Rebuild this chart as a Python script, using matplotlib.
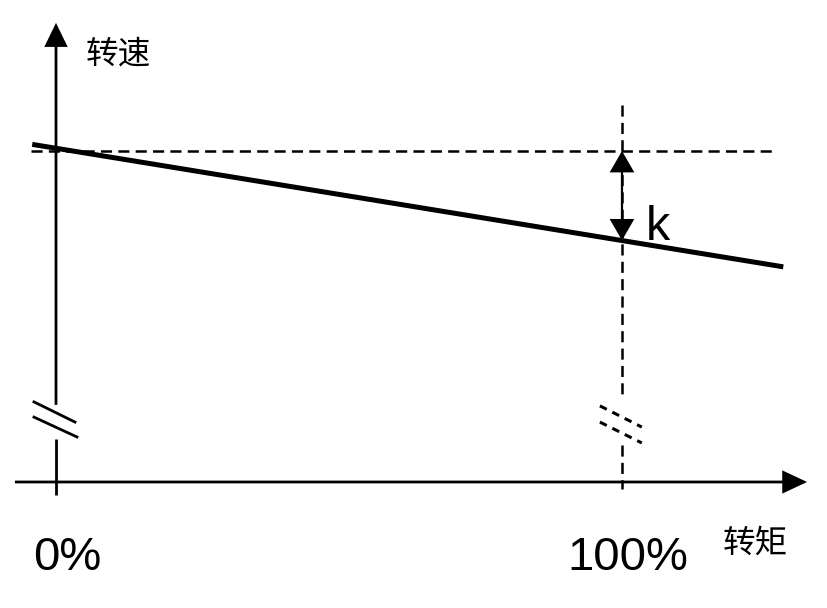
import matplotlib
matplotlib.use("Agg")
import matplotlib.pyplot as plt
from matplotlib.patches import FancyArrowPatch

plt.rcParams['lines.scale_dashes'] = False

# ---- data (schematic values) ----
torque_line = [-4.2, 128.5]      # % torque, ends of the speed-torque line
speed_line = [102.0, 65.0]       # speed at those ends
no_load_speed = 100.0            # dashed reference level
rated_torque = 100.0             # 100 % torque
rated_speed = 73.0               # speed on line at 100 % torque
tick_pos = [0, 100]
tick_labels = ["0%", "100%"]
y_label = "转速"
x_label = "转矩"
k_label = "k"

cjk = ['Noto Sans CJK SC', 'DejaVu Sans']
latin = ['Liberation Sans', 'DejaVu Sans']

fig = plt.figure(figsize=(8.28, 6.08), dpi=100)
ax = fig.add_axes([0, 0, 1, 1])
ax.set_xlim(-9.894, 136.40)
ax.set_ylim(-38.07, 145.62)
ax.axis('off')

k = 'black'
axis_lw = 2.0
dash_lw = 1.8
dash = (0, (8.0, 4.5))

def arrow(p0, p1, style, hl, hw, lw):
    a = FancyArrowPatch(p0, p1, arrowstyle=f"{style},head_length={hl},head_width={hw}",
                        color=k, lw=lw, shrinkA=0, shrinkB=0, mutation_scale=1,
                        joinstyle='miter', capstyle='butt')
    ax.add_patch(a)

# x axis with arrow
arrow((-7.25, 0), (132.7, 0), "-|>", 14.5, 6.8, axis_lw)

# y axis: lower stub and upper part with arrow (broken)
ax.plot([0, 0], [-3.9, 13.0], color=k, lw=axis_lw, solid_capstyle='butt')
arrow((0, 23.3), (0, 138.7), "-|>", 14.0, 6.8, axis_lw)
# break marks on y axis
ax.plot([-3.89, 3.36], [24.2, 18.1], color=k, lw=axis_lw)
ax.plot([-3.89, 3.71], [19.6, 13.6], color=k, lw=axis_lw)

# vertical dashed line at rated torque (broken)
ax.plot([rated_torque, rated_torque], [113.9, 24.8], color=k, lw=dash_lw, linestyle=dash)
ax.plot([rated_torque, rated_torque], [11.2, -2.1], color=k, lw=dash_lw, linestyle=dash)
ax.plot([96.1, 103.5], [23.0, 16.6], color=k, lw=2.2, linestyle=(0, (5.5, 4.5)))
ax.plot([96.1, 103.5], [18.1, 11.8], color=k, lw=2.2, linestyle=(0, (5.5, 4.5)))

# horizontal dashed reference at no-load speed
ax.plot([-4.4, 126.7], [no_load_speed, no_load_speed], color=k, lw=dash_lw, linestyle=dash)

# speed-torque line
ax.plot(torque_line, speed_line, color=k, lw=3.6, solid_capstyle='butt')

# double arrow k
arrow((rated_torque, no_load_speed), (rated_torque, rated_speed), "<|-|>", 13.0, 7.5, 1.6)
ax.text(104.2, rated_speed, k_label, fontsize=35, family=latin, ha='left', va='baseline')

# tick labels
for p, lab in zip(tick_pos, tick_labels):
    ax.text(p + (2.0 if p == 0 else 1.0), -26.6, lab, fontsize=34, family=latin,
            ha='center', va='baseline')

# axis labels
ax.text(10.95, 129.3, y_label, fontsize=23.5, family=cjk, ha='center', va='center')
ax.text(123.5, -18.7, x_label, fontsize=23.5, family=cjk, ha='center', va='center')

fig.savefig("out.png", dpi=100)
